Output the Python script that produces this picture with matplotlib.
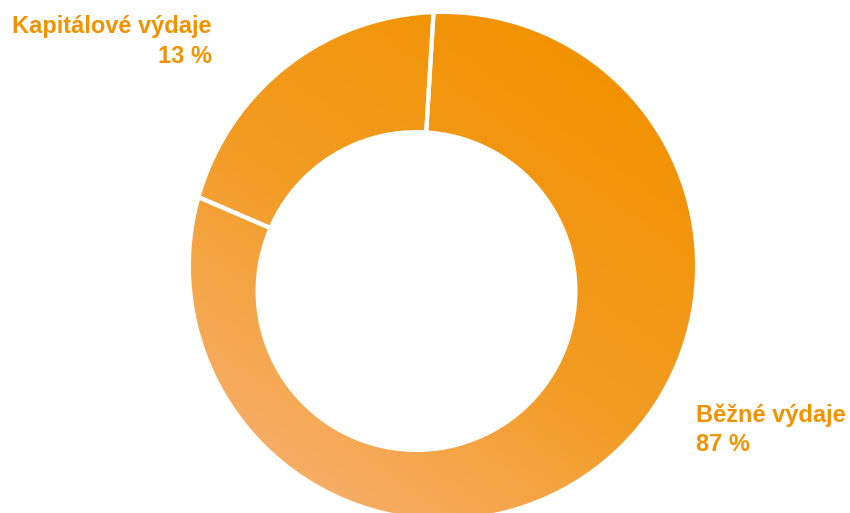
import numpy as np
import matplotlib
matplotlib.use("Agg")
import matplotlib.pyplot as plt
from matplotlib.patches import Circle
from matplotlib.colors import LinearSegmentedColormap

# ---- data ----
categories = ["Běžné výdaje", "Kapitálové výdaje"]
label_pct = [87, 13]
# slice sizes as drawn in the reference (share of the ring, %)
drawn_share = [80.5, 19.5]

W, H = 850, 513
fig = plt.figure(figsize=(W / 100, H / 100), dpi=100)
ax = fig.add_axes([0, 0, 1, 1])

orange = "#F29200"
outer_c, outer_r = (443, H - 266), 252
inner_c, inner_r = (416.5, H - 291), 161

# gradient fill clipped to outer circle
cmap = LinearSegmentedColormap.from_list("g", ["#F29200", "#F39C24", "#F8B277"])
xx, yy = np.meshgrid(np.arange(W), np.arange(H))
p0 = np.array([575.0, H - 30.0])
p1 = np.array([235.0, H - 505.0])
d = p1 - p0
t = ((xx - p0[0]) * d[0] + (yy - p0[1]) * d[1]) / (d @ d)
t = np.clip(t, 0, 1)
img = ax.imshow(t, cmap=cmap, extent=(0, W, 0, H), origin="lower", vmin=0, vmax=1, zorder=1)
img.set_clip_path(Circle(outer_c, outer_r, transform=ax.transData))

# slice separators from the pie wedges
wedges, _ = ax.pie(drawn_share, center=inner_c, radius=320, startangle=156.7,
                   counterclock=True, frame=True,
                   wedgeprops=dict(facecolor="none", edgecolor="white", linewidth=3.0))
for w in wedges:
    w.set_zorder(2)
    w.set_clip_path(Circle(outer_c, outer_r, transform=ax.transData))

ax.add_patch(Circle(inner_c, inner_r, facecolor="white", edgecolor="none", zorder=3))

ax.set_xlim(0, W)
ax.set_ylim(0, H)
ax.set_aspect("equal")
ax.axis("off")

fp = dict(family=["Liberation Sans", "DejaVu Sans"], fontweight="bold", fontsize=17, color=orange)
ax.text(212, H - 33, categories[1], ha="right", va="baseline", **fp)
ax.text(212, H - 63, f"{label_pct[1]} %", ha="right", va="baseline", **fp)
ax.text(696, H - 422, categories[0], ha="left", va="baseline", **fp)
ax.text(696, H - 451, f"{label_pct[0]} %", ha="left", va="baseline", **fp)

fig.savefig("out.png", dpi=100)
